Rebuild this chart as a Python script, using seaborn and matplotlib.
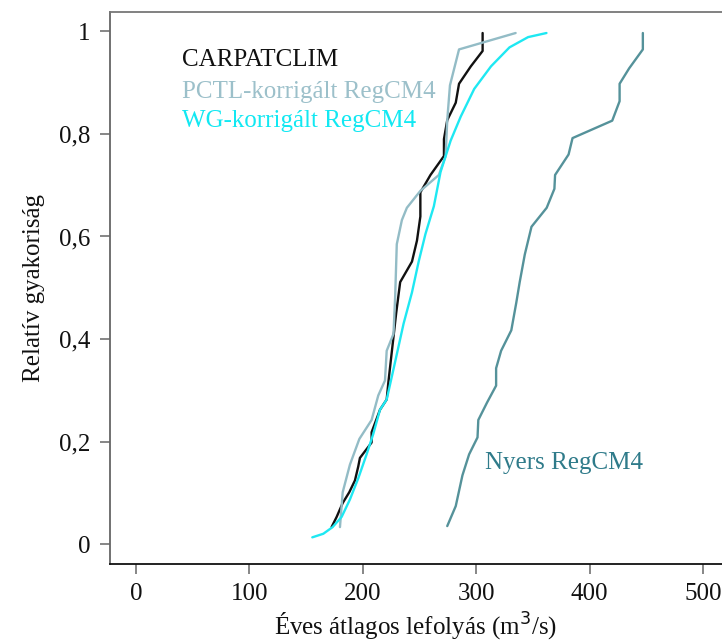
import matplotlib
matplotlib.use("Agg")
import matplotlib.pyplot as plt
from matplotlib.ticker import FuncFormatter
import pandas as pd
import seaborn as sns

# Értékek (éves átlagos lefolyás, relatív gyakoriság)
carpat_x = [172.5, 177, 182.3, 188.1, 193.1, 196, 197.5, 207.8, 207.8, 215.2, 221.1, 222.6,
            227.1, 229.5, 233, 243.4, 247.8, 250.8, 250.8, 259.7, 271.6, 271.6, 274.5,
            282, 284.9, 295.3, 305.7, 305.7]
carpat_y = [0.033, 0.053, 0.080, 0.101, 0.124, 0.151, 0.168, 0.198, 0.218, 0.262, 0.282, 0.316,
            0.404, 0.451, 0.511, 0.551, 0.592, 0.639, 0.686, 0.720, 0.757, 0.790, 0.827,
            0.861, 0.898, 0.932, 0.962, 0.997]

pctl_x = [179.9, 182.3, 188.7, 197, 207.8, 213.7, 219.6, 221.1, 227.1, 228.6, 230, 234.5,
          238.9, 250.8, 267.1, 273.1, 274.5, 276.9, 284.9, 334.8]
pctl_y = [0.033, 0.101, 0.155, 0.205, 0.242, 0.290, 0.319, 0.377, 0.410, 0.484, 0.585, 0.632,
          0.656, 0.689, 0.720, 0.757, 0.827, 0.895, 0.965, 0.997]

wg_x = [155.5, 165.2, 173.4, 181.4, 188.7, 196, 203.4, 209.3, 215.2, 221.1, 228.6, 236,
        243.4, 249.3, 255.3, 262.7, 268.6, 277.5, 286.4, 298.3, 313.1, 329.4, 345.8, 362]
wg_y = [0.013, 0.020, 0.033, 0.053, 0.087, 0.128, 0.175, 0.215, 0.262, 0.282, 0.356, 0.430,
        0.491, 0.551, 0.605, 0.659, 0.726, 0.787, 0.834, 0.888, 0.932, 0.969, 0.989, 0.997]

nyers_x = [274.5, 282, 287.9, 293.8, 301.2, 301.9, 309.6, 317.6, 317.6, 322, 331, 335.4,
           338.4, 342.9, 348.8, 362.2, 369, 369.6, 381.5, 385, 420, 426.5, 426.5, 434.9,
           447, 447]
nyers_y = [0.035, 0.074, 0.134, 0.175, 0.208, 0.242, 0.276, 0.309, 0.343, 0.377, 0.417, 0.471,
           0.511, 0.565, 0.619, 0.656, 0.693, 0.720, 0.760, 0.792, 0.826, 0.864, 0.898, 0.928,
           0.965, 0.997]

sorozat_nevek = ["CARPATCLIM", "PCTL-korrigált RegCM4", "WG-korrigált RegCM4", "Nyers RegCM4"]
szinek = ["#111111", "#93bcc6", "#1ee8f2", "#55929a"]
szoveg_szinek = ["#111111", "#9cc0ca", "#12e8f2", "#2f7b8a"]

frames = []
for nev, xs, ys in zip(sorozat_nevek,
                       [carpat_x, pctl_x, wg_x, nyers_x],
                       [carpat_y, pctl_y, wg_y, nyers_y]):
    frames.append(pd.DataFrame({"x": xs, "y": ys, "sorozat": nev}))
df = pd.concat(frames, ignore_index=True)

sns.set_style("ticks")
plt.rcParams["font.family"] = ["Liberation Serif", "DejaVu Serif"]

fig = plt.figure(figsize=(7.22, 6.43), dpi=100)
ax = fig.add_axes([110 / 722, 79 / 643, 1 - 110 / 722, (564 - 12) / 643])

sns.lineplot(data=df, x="x", y="y", hue="sorozat", hue_order=sorozat_nevek,
             palette=szinek, sort=False, estimator=None, linewidth=1.7,
             legend=False, ax=ax)

ax.set_xlim(-22.9, 516.8)
ax.set_ylim(-0.039, 1.038)
ax.set_xticks([0, 100, 200, 300, 400, 500])
ax.set_yticks([0, 0.2, 0.4, 0.6, 0.8, 1.0])
ax.yaxis.set_major_formatter(FuncFormatter(lambda v, p: ("%g" % round(v, 1)).replace(".", ",")))
ax.tick_params(direction="out", length=7, width=1.1, color="#666666",
               labelsize=18, pad=7, labelcolor="#111111")

ax.spines["right"].set_visible(False)
ax.spines["top"].set_color("#777777")
ax.spines["left"].set_color("#666666")
ax.spines["bottom"].set_color("#111111")
for s in ["top", "left", "bottom"]:
    ax.spines[s].set_linewidth(1.3)

ax.set_xlabel("Éves átlagos lefolyás (m$^3$/s)", fontsize=18, color="#111111", labelpad=4)
ax.set_ylabel("Relatív gyakoriság", fontsize=18, color="#111111", labelpad=10)

# feliratok a görbék mellett
ax.text(40.6, 0.944, sorozat_nevek[0], color=szoveg_szinek[0], fontsize=18, va="center")
ax.text(40.6, 0.882, sorozat_nevek[1], color=szoveg_szinek[1], fontsize=18, va="center")
ax.text(40.6, 0.825, sorozat_nevek[2], color=szoveg_szinek[2], fontsize=18, va="center")
ax.text(307.8, 0.158, sorozat_nevek[3], color=szoveg_szinek[3], fontsize=18, va="center")

fig.savefig("out.png", dpi=100)
